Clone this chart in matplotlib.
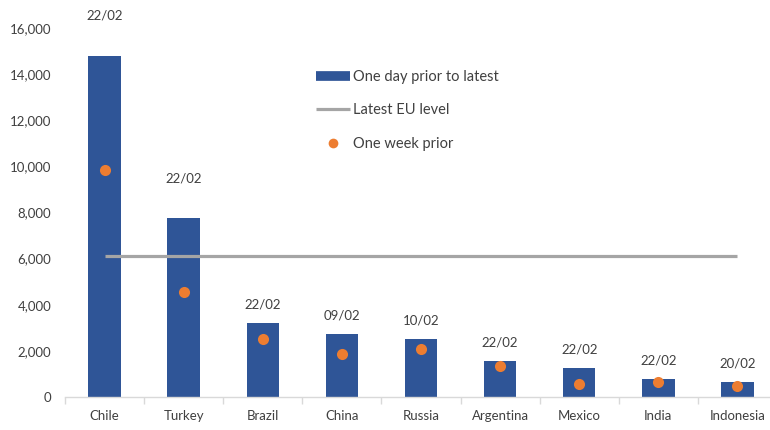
import matplotlib
matplotlib.use("Agg")
import matplotlib.pyplot as plt
from matplotlib.lines import Line2D
from matplotlib.ticker import FuncFormatter, FixedLocator

# Data
countries = ["Chile", "Turkey", "Brazil", "China", "Russia", "Argentina", "Mexico", "India", "Indonesia"]
day_prior = [14800, 7750, 3230, 2750, 2520, 1580, 1250, 770, 650]
week_prior = [9850, 4560, 2500, 1850, 2070, 1330, 580, 650, 480]
dates = ["22/02", "22/02", "22/02", "09/02", "10/02", "22/02", "22/02", "22/02", "20/02"]
eu_level = 6120
yticks = [0, 2000, 4000, 6000, 8000, 10000, 12000, 14000, 16000]

BLUE = "#2F5597"
ORANGE = "#ED7D31"
GREY = "#A5A5A5"
TEXT = "#404040"

plt.rcParams["font.family"] = ["Lato", "DejaVu Sans"]

fig = plt.figure(figsize=(7.7, 4.3), dpi=100)
ax = fig.add_axes([65 / 770, 33 / 430, 712 / 770, 369 / 430])

x = list(range(len(countries)))
ax.bar(x, day_prior, width=0.41, color=BLUE, zorder=2)
ax.plot([x[0], x[-1]], [eu_level, eu_level], color=GREY, lw=2.3, zorder=3,
        solid_capstyle="butt")
ax.plot(x, week_prior, "o", color=ORANGE, markersize=8, markeredgewidth=0, zorder=4)

# date annotations above each bar; the two tallest sit a little higher
for i, (v, d) in enumerate(zip(day_prior, dates)):
    lift = 24.5 if i < 2 else 9
    ax.annotate(d, (i, v), xytext=(0, lift), textcoords="offset points",
                ha="center", va="bottom", fontsize=9.5, color=TEXT,
                annotation_clip=False)

ax.set_xlim(-0.5, len(countries) - 0.5)
ax.set_ylim(0, 16000)
ax.set_yticks(yticks)
ax.yaxis.set_major_formatter(FuncFormatter(lambda v, p: f"{int(v):,}"))
ax.set_xticks(x)
ax.set_xticklabels(countries)
ax.xaxis.set_minor_locator(FixedLocator([i - 0.5 for i in range(len(countries) + 1)]))

for s in ["top", "right", "left"]:
    ax.spines[s].set_visible(False)
ax.spines["bottom"].set_color("#D9D9D9")
ax.spines["bottom"].set_linewidth(1.0)

ax.tick_params(axis="y", length=0, pad=10, labelsize=9.5, labelcolor=TEXT)
ax.tick_params(axis="x", which="major", length=0, pad=9, labelsize=9.5, labelcolor=TEXT)
ax.tick_params(axis="x", which="minor", length=5, color="#D9D9D9", width=1.0)

handles = [
    Line2D([0], [0], color=BLUE, lw=7, solid_capstyle="butt"),
    Line2D([0], [0], color=GREY, lw=2.3, solid_capstyle="butt"),
    Line2D([0], [0], color=ORANGE, marker="o", lw=0, markersize=7, markeredgewidth=0),
]
labels = ["One day prior to latest", "Latest EU level", "One week prior"]
leg = fig.legend(handles, labels, loc="upper left", bbox_to_anchor=(316 / 770, 1 - 70 / 430),
                 frameon=False, fontsize=10.5, handlelength=2.3, handletextpad=0.25,
                 labelspacing=1.33, borderpad=0, borderaxespad=0)
for t in leg.get_texts():
    t.set_color(TEXT)

fig.savefig("out.png", dpi=100)
